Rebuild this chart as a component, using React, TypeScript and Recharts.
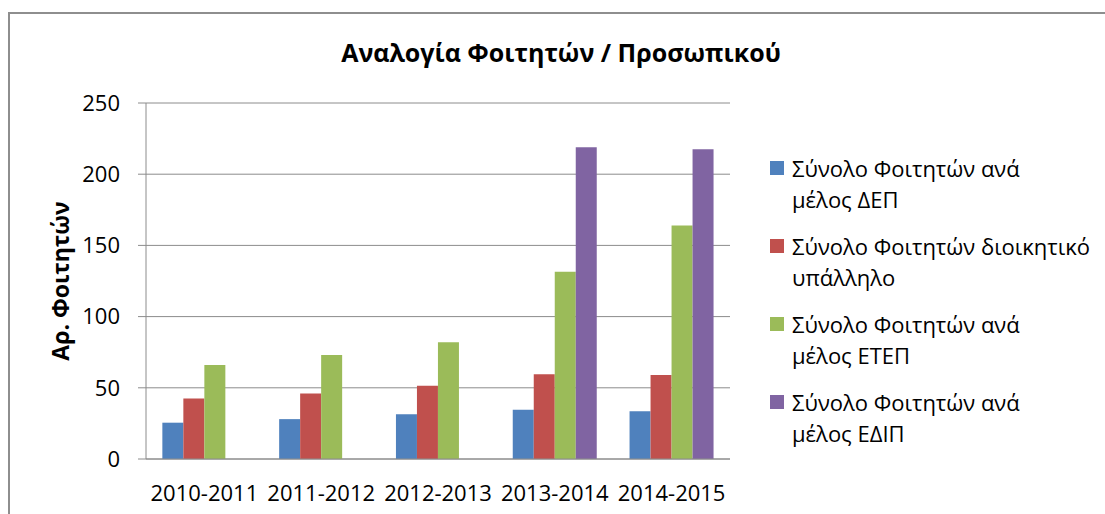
import React from 'react';
import { BarChart, Bar, XAxis, YAxis, CartesianGrid } from 'recharts';

const categories = ['2010-2011', '2011-2012', '2012-2013', '2013-2014', '2014-2015'];
const depValues = [25.5, 28, 31.5, 34.5, 33.5];
const adminValues = [42.5, 46, 51.5, 59.5, 59];
const etepValues = [66, 73, 82, 131.5, 164];
const edipValues = [null, null, null, 219, 217.5];
const yTicks = [0, 50, 100, 150, 200, 250];

const series = [
  { key: 'dep', name: 'Σύνολο Φοιτητών ανά\nμέλος ΔΕΠ', color: '#4F81BD', values: depValues },
  { key: 'admin', name: 'Σύνολο Φοιτητών διοικητικό\nυπάλληλο', color: '#C0504D', values: adminValues },
  { key: 'etep', name: 'Σύνολο Φοιτητών ανά\nμέλος ΕΤΕΠ', color: '#9BBB59', values: etepValues },
  { key: 'edip', name: 'Σύνολο Φοιτητών ανά\nμέλος ΕΔΙΠ', color: '#8064A2', values: edipValues },
];

const data = categories.map((year, i) => {
  const row: Record<string, string | number | null> = { year };
  series.forEach(s => { row[s.key] = s.values[i]; });
  return row;
});

const FONT = '"Open Sans", sans-serif';
const GRID = '#8c8c8c';

export default function App() {
  return (
    <div style={{ position: 'absolute', left: 0, top: 0, width: 1105, height: 514, overflow: 'hidden', background: '#fff', fontFamily: FONT }}>
      {/* chart frame, runs off the right and bottom edges */}
      <div style={{ position: 'absolute', left: 8, top: 12, width: 1200, height: 600, border: '2px solid #8e8e8e' }} />

      <div style={{ position: 'absolute', left: 0, width: 1122, top: 35, textAlign: 'center', fontSize: 25, fontWeight: 700, lineHeight: '34px', color: '#000' }}>
        Αναλογία Φοιτητών / Προσωπικού
      </div>

      <div style={{ position: 'absolute', left: 0, top: 0 }}>
        <BarChart width={1105} height={514} data={data} margin={{ top: 103, right: 375, bottom: 0, left: 0 }} barCategoryGap="14%" barGap={0}>
          <CartesianGrid vertical={false} stroke={GRID} strokeDasharray="" />
          <XAxis
            dataKey="year"
            height={55}
            tickLine={false}
            axisLine={{ stroke: GRID }}
            tickMargin={20}
            tick={{ fill: '#000', fontSize: 22, fontFamily: FONT }}
            interval={0}
          />
          <YAxis
            width={146}
            domain={[0, 250]}
            ticks={yTicks}
            tickSize={8}
            tickMargin={18}
            tickLine={{ stroke: GRID }}
            axisLine={{ stroke: GRID }}
            tick={{ fill: '#000', fontSize: 22, fontFamily: FONT }}
            label={{
              value: 'Αρ. Φοιτητών',
              angle: -90,
              position: 'insideLeft',
              offset: 61,
              style: { textAnchor: 'middle', fontSize: 23, fontWeight: 700, fill: '#000', fontFamily: FONT },
            }}
          />
          {series.map(s => (
            <Bar key={s.key} dataKey={s.key} name={s.name} fill={s.color} isAnimationActive={false} />
          ))}
        </BarChart>
      </div>

      <div style={{ position: 'absolute', left: 770, top: 153, fontSize: 22, color: '#000' }}>
        {series.map(s => (
          <div key={s.key} style={{ display: 'flex', alignItems: 'flex-start', marginBottom: 16 }}>
            <span style={{ width: 14, height: 14, background: s.color, marginTop: 8, marginRight: 8, flex: 'none' }} />
            <span style={{ whiteSpace: 'pre-line', lineHeight: '31px' }}>{s.name}</span>
          </div>
        ))}
      </div>
    </div>
  );
}
